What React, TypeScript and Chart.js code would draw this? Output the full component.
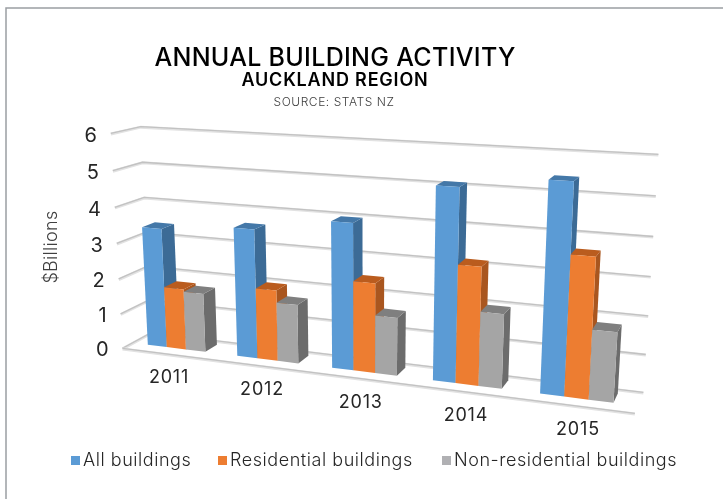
import React, { useEffect, useRef } from "react";
import { Chart, registerables } from "chart.js";

Chart.register(...registerables);

const categories = ["2011", "2012", "2013", "2014", "2015"];
const allBuildings = [3.38, 3.58, 3.97, 5.08, 5.4];
const residential = [1.73, 1.97, 2.43, 3.12, 3.62];
const nonResidential = [1.66, 1.63, 1.57, 1.96, 1.8];
const yTickStep = 1;
const yMax = 6;

const seriesStyles = [
  { label: "All buildings", data: allBuildings, front: "#5B9BD5", top: "#4478A8", side: "#3C6B96", key: "#5B9BD5" },
  { label: "Residential buildings", data: residential, front: "#ED7D31", top: "#BA5C1E", side: "#A9561F", key: "#ED7D31" },
  { label: "Non-residential buildings", data: nonResidential, front: "#A5A5A5", top: "#7F7F7F", side: "#6C6C6C", key: "#B0B0B3" },
];

// Calibration of the 3D camera: (u, v, d) of the plot box -> screen pixel
const calibration: number[][] = [
  [0, 0, 0, 123.3, 347.3],
  [1, 0, 0, 635, 414],
  [0, 1, 0, 110, 134],
  [0, 0, 1, 150, 334],
  [1, 0, 1, 643.3, 391.7],
  [0, 1, 1, 141.7, 126],
  [1, 1, 1, 658.3, 154.3],
  [0, 0.5, 0, 116.7, 243.3],
  [1, 0.5, 1, 650.7, 276.7],
];
const barDepthFront = 0.35;
const barDepthBack = 0.8;
const barSpan = 0.993;

function solveCamera(): number[] {
  const rows: number[][] = [];
  const rhs: number[] = [];
  for (const [u, v, d, x, y] of calibration) {
    rows.push([u, v, d, 1, 0, 0, 0, 0, -x * u, -x * v, -x * d]);
    rhs.push(x);
    rows.push([0, 0, 0, 0, u, v, d, 1, -y * u, -y * v, -y * d]);
    rhs.push(y);
  }
  const n = 11;
  const m: number[][] = [];
  for (let i = 0; i < n; i++) {
    const row: number[] = [];
    for (let j = 0; j < n; j++) {
      let s = 0;
      rows.forEach((r) => (s += r[i] * r[j]));
      row.push(s);
    }
    let t = 0;
    rows.forEach((r, k) => (t += r[i] * rhs[k]));
    row.push(t);
    m.push(row);
  }
  for (let c = 0; c < n; c++) {
    let p = c;
    for (let r = c + 1; r < n; r++) if (Math.abs(m[r][c]) > Math.abs(m[p][c])) p = r;
    [m[c], m[p]] = [m[p], m[c]];
    for (let r = 0; r < n; r++) {
      if (r === c) continue;
      const f = m[r][c] / m[c][c];
      for (let k = c; k <= n; k++) m[r][k] -= f * m[c][k];
    }
  }
  return m.map((row, i) => row[n] / row[i]);
}

const cam = solveCamera();
function project(u: number, v: number, d: number): [number, number] {
  const w = cam[8] * u + cam[9] * v + cam[10] * d + 1;
  return [
    (cam[0] * u + cam[1] * v + cam[2] * d + cam[3]) / w,
    (cam[4] * u + cam[5] * v + cam[6] * d + cam[7]) / w,
  ];
}

const FONT = "Inter, 'Liberation Sans', sans-serif";

function poly(ctx: CanvasRenderingContext2D, pts: [number, number][], fill: string) {
  ctx.beginPath();
  pts.forEach((p, i) => (i ? ctx.lineTo(p[0], p[1]) : ctx.moveTo(p[0], p[1])));
  ctx.closePath();
  ctx.fillStyle = fill;
  ctx.fill();
}

function wallLine(ctx: CanvasRenderingContext2D, pts: [number, number][]) {
  const stroke = (color: string, width: number, dy: number) => {
    ctx.beginPath();
    pts.forEach((p, i) => (i ? ctx.lineTo(p[0], p[1] + dy) : ctx.moveTo(p[0], p[1] + dy)));
    ctx.strokeStyle = color;
    ctx.lineWidth = width;
    ctx.stroke();
  };
  stroke("#e2e2e2", 3, 0.6);
  stroke("#c2c2c2", 1.3, 0);
}

function text(
  ctx: CanvasRenderingContext2D,
  s: string,
  x: number,
  y: number,
  font: string,
  color: string,
  align: CanvasTextAlign = "center",
  spacing = "0px"
) {
  ctx.font = font;
  ctx.fillStyle = color;
  ctx.textAlign = align;
  ctx.textBaseline = "middle";
  (ctx as any).letterSpacing = spacing;
  ctx.fillText(s, x, y);
  (ctx as any).letterSpacing = "0px";
}

const scene = {
  id: "scene3d",
  beforeDatasetsDraw(chart: any) {
    const ctx: CanvasRenderingContext2D = chart.ctx;
    const area = chart.chartArea;
    const yScale = chart.scales.y;
    const xScale = chart.scales.x;
    const toU = (x: number) => (x - area.left) / (area.right - area.left);
    const toV = (y: number) => (area.bottom - y) / (area.bottom - area.top);

    ctx.save();
    // frame
    ctx.strokeStyle = "#9b9ea3";
    ctx.lineWidth = 1.5;
    ctx.beginPath();
    ctx.moveTo(6, 499);
    ctx.lineTo(6, 8);
    ctx.lineTo(723, 8);
    ctx.stroke();

    // titles
    text(ctx, "ANNUAL BUILDING ACTIVITY", 335, 58, `500 25px ${FONT}`, "#000000", "center", "0.3px");
    text(ctx, "AUCKLAND REGION", 335, 80.5, `600 18px ${FONT}`, "#000000", "center", "0.8px");
    text(ctx, "SOURCE: STATS NZ", 334, 102, `300 12px ${FONT}`, "#404040", "center", "0.55px");

    // gridlines on the side and back walls
    yScale.ticks.forEach((t: any) => {
      const v = t.value / yMax;
      wallLine(ctx, [project(0, v, 0), project(0, v, 1), project(1, v, 1)]);
      const p = project(0, v, 0);
      text(ctx, String(t.value), p[0] - 14, p[1] + 1.5 + 1.5 * v, `400 20px ${FONT}`, "#262626", "right");
    });
    // floor front edge
    wallLine(ctx, [project(0, 0, 0), project(1, 0, 0)]);

    // bars
    const metas = chart.getSortedVisibleDatasetMetas();
    categories.forEach((_, i) => {
      metas.forEach((meta: any, ds: number) => {
        const el = meta.data[i];
        const style = seriesStyles[ds];
        const u0 = toU(el.x - el.width / 2) * barSpan;
        const u1 = toU(el.x + el.width / 2) * barSpan;
        const v1 = toV(el.y);
        const v0 = toV(el.base);
        const d0 = barDepthFront;
        const d1 = barDepthBack;
        poly(ctx, [project(u1, v0, d0), project(u1, v0, d1), project(u1, v1, d1), project(u1, v1, d0)], style.side);
        poly(ctx, [project(u0, v1, d0), project(u1, v1, d0), project(u1, v1, d1), project(u0, v1, d1)], style.top);
        poly(ctx, [project(u0, v0, d0), project(u1, v0, d0), project(u1, v1, d0), project(u0, v1, d0)], style.front);
      });
    });

    // category labels
    xScale.ticks.forEach((t: any, i: number) => {
      const u = toU(xScale.getPixelForTick(i));
      const p = project(u, 0, 0);
      text(ctx, categories[t.value] ?? String(t.label), p[0] + 2, p[1] + 24, `400 18px ${FONT}`, "#262626", "center", "0.8px");
    });

    // axis title
    ctx.save();
    ctx.translate(52, 247);
    ctx.rotate(-Math.PI / 2);
    text(ctx, "$Billions", 0, 0, `300 18px ${FONT}`, "#404040", "center", "0.3px");
    ctx.restore();

    // legend
    const keyX = [71, 218, 442];
    seriesStyles.forEach((s, i) => {
      ctx.fillStyle = s.key;
      ctx.fillRect(keyX[i], 456, 9, 9);
      text(ctx, s.label, keyX[i] + 12, 461, `300 18px ${FONT}`, "#262626", "left", "0.55px");
    });
    ctx.restore();
    return false;
  },
};

export default function App() {
  const ref = useRef<HTMLCanvasElement>(null);
  useEffect(() => {
    document.body.style.margin = "0";
    const chart = new Chart(ref.current as HTMLCanvasElement, {
      type: "bar",
      data: {
        labels: categories,
        datasets: seriesStyles.map((s) => ({
          label: s.label,
          data: s.data,
          backgroundColor: s.front,
          categoryPercentage: 0.65,
          barPercentage: 1,
        })),
      },
      options: {
        animation: false,
        responsive: false,
        plugins: { legend: { display: false }, tooltip: { enabled: false } },
        scales: {
          x: { display: false },
          y: { display: false, min: 0, max: yMax, ticks: { stepSize: yTickStep } },
        },
      },
      plugins: [scene],
    } as any);
    return () => chart.destroy();
  }, []);
  return <canvas ref={ref} width={723} height={499} style={{ display: "block" }} />;
}
